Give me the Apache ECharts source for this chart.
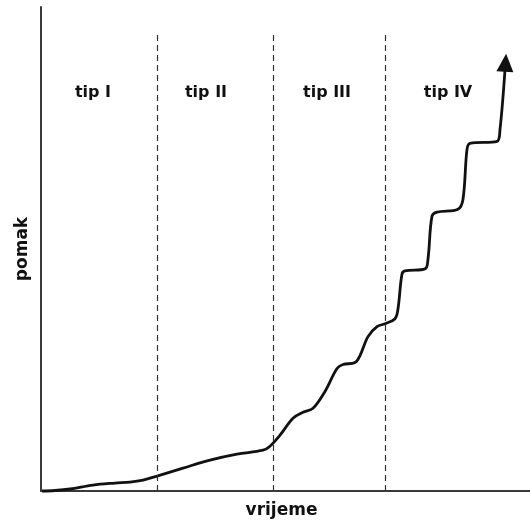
<!DOCTYPE html>
<html>
<head>
<meta charset="utf-8">
<script src="https://cdn.jsdelivr.net/npm/echarts@6/dist/echarts.min.js"></script>
<style>
  html, body { margin: 0; padding: 0; background: #ffffff; }
  #chart { width: 530px; height: 524px; }
</style>
</head>
<body>
<div id="chart"></div>
<script>
// vrijeme (time, arbitrary units) and pomak (displacement, arbitrary units)
var vrijeme = [1, 14, 29, 52, 74, 89, 102, 116, 142, 169, 196, 222, 229, 239, 252, 262, 272, 284, 296, 302, 314, 319, 327, 336, 344, 354, 357, 361, 364, 384, 387, 391, 396, 417, 422, 426, 429, 456, 459, 464];
var pomak   = [0, 0.5, 2, 6, 8, 9, 11, 15, 23, 31, 37, 41, 45, 56, 73, 79, 83, 100, 123, 127, 129, 136, 155, 165, 168, 173, 183, 218, 221, 223, 233, 276, 280, 283, 293, 343, 349, 351, 363, 423];
// boundaries between the creep types
var granice = [116, 232, 344];
// type labels and their positions
var tipovi  = ['tip I', 'tip II', 'tip III', 'tip IV'];
var tipX    = [52, 165, 286, 407];
var tipY    = [400, 400, 400, 400];

var curve = vrijeme.map(function (x, i) { return [x, pomak[i]]; });
var last = curve[curve.length - 1];

var chart = echarts.init(document.getElementById('chart'), null, { renderer: 'canvas' });
var axisCol = '#3a3a3a';
var fontFam = '"DejaVu Sans", Verdana, sans-serif';

chart.setOption({
  animation: false,
  backgroundColor: '#ffffff',
  grid: { left: 41, right: 0, top: 7, bottom: 31, containLabel: false },
  xAxis: {
    type: 'value', min: 0, max: 489,
    name: 'vrijeme', nameLocation: 'middle', nameGap: 11,
    nameTextStyle: { fontFamily: fontFam, fontWeight: 'bold', fontSize: 17, color: '#111111', padding: [0, 8, 0, 0] },
    axisLine: { show: true, lineStyle: { color: axisCol, width: 2 } },
    axisTick: { show: false }, axisLabel: { show: false }, splitLine: { show: false }
  },
  yAxis: {
    type: 'value', min: 0, max: 486,
    name: 'pomak', nameLocation: 'middle', nameGap: 10, nameRotate: 90,
    nameTextStyle: { fontFamily: fontFam, fontWeight: 'bold', fontSize: 17, color: '#111111' },
    axisLine: { show: true, lineStyle: { color: axisCol, width: 2 } },
    axisTick: { show: false }, axisLabel: { show: false }, splitLine: { show: false }
  },
  series: [
    {
      type: 'line',
      data: curve,
      smooth: 0.35,
      symbol: 'none',
      clip: false,
      lineStyle: { color: '#111111', width: 2.8 },
      markLine: {
        silent: true, symbol: 'none',
        label: { show: false },
        lineStyle: { color: '#333333', width: 1.2, type: [6, 4] },
        data: granice.map(function (g) { return [{ coord: [g, 0] }, { coord: [g, 460] }]; })
      },
      z: 3
    },
    {
      type: 'scatter',
      data: [last],
      symbol: 'triangle',
      symbolSize: [17, 18],
      symbolRotate: -4,
      symbolOffset: [0.5, -7],
      itemStyle: { color: '#111111', opacity: 1 },
      clip: false,
      z: 4
    },
    {
      type: 'scatter',
      symbolSize: 0,
      itemStyle: { opacity: 1 },
      data: tipovi.map(function (t, i) { return { name: t, value: [tipX[i], tipY[i]] }; }),
      label: {
        show: true, position: 'inside', formatter: '{b}', opacity: 1,
        fontFamily: fontFam, fontWeight: 'bold', fontSize: 16, color: '#111111'
      },
      z: 5
    }
  ]
});
</script>
</body>
</html>
